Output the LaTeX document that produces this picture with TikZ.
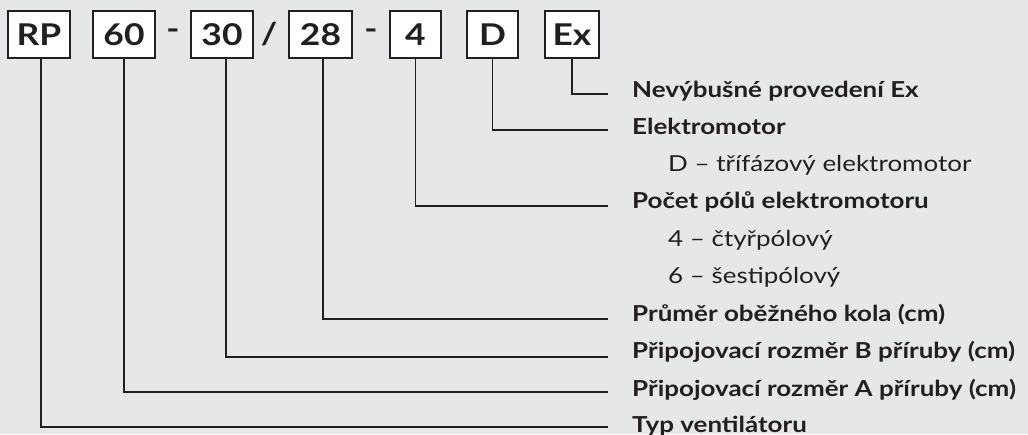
\documentclass[tikz,border=0pt]{standalone}
\usepackage{fontspec}
\setmainfont{Lato}[FakeStretch=1.18]
\definecolor{bg}{HTML}{E6E7E8}
\definecolor{ink}{HTML}{231F20}
\begin{document}
\begin{tikzpicture}[x=1pt,y=-1pt,
  code/.style={draw=ink,line width=2pt,fill=white,inner sep=0pt,minimum height=47pt,font=\fontsize{30}{30}\selectfont\bfseries,text=ink},
  sep/.style={font=\fontsize{30}{30}\selectfont\bfseries,text=ink,inner sep=0pt},
  head/.style={anchor=base west,inner sep=0pt,font=\fontsize{22}{24}\selectfont\bfseries,text=ink},
  sub/.style={anchor=base west,inner sep=0pt,font=\fontsize{22}{24}\selectfont,text=ink},
  conn/.style={draw=ink,line width=1.6pt}]
\fill[bg] (0,0) rectangle (1028,434);
\useasboundingbox (0,0) rectangle (1028,434);
% boxes
\node[code,minimum width=62pt] (rp) at (39,34.5) {RP};
\node[code,minimum width=62pt] (s60) at (124,34.5) {60};
\node[sep] (d1) at (173,34.5) {-};
\node[code,minimum width=62pt] (s30) at (222,34.5) {30};
\node[sep] (sl) at (269,34.5) {/};
\node[code,minimum width=63pt] (s28) at (320.5,34.5) {28};
\node[sep] (d2) at (371,34.5) {-};
\node[code,minimum width=51pt] (s4) at (415.5,34.5) {4};
\node[code,minimum width=51pt] (sD) at (492.5,34.5) {D};
\node[code,minimum width=54pt] (sEx) at (572,34.5) {Ex};
% labels
\node[head] (lEx) at (632,97) {Nevýbušné provedení Ex};
\node[head] (lD) at (632,134) {Elektromotor};
\node[sub] (lD1) at (668,171) {D – třífázový elektromotor};
\node[head] (l4) at (632,208) {Počet pólů elektromotoru};
\node[sub] (l41) at (668,246) {4 – čtyřpólový};
\node[sub] (l42) at (668,283) {6 – šestipólový};
\node[head] (l28) at (632,321) {Průměr oběžného kola (cm)};
\node[head] (l30) at (632,358) {Připojovací rozměr B příruby (cm)};
\node[head] (l60) at (632,396) {Připojovací rozměr A příruby (cm)};
\node[head] (lRP) at (632,432) {Typ ventilátoru};
% line ends
\coordinate (eEx) at (608,94);
\coordinate (eD) at (608,130);
\coordinate (e4) at (608,206);
\coordinate (e28) at (608,319);
\coordinate (e30) at (608,357);
\coordinate (e60) at (608,392);
\coordinate (eRP) at (608,427);
% connectors
\draw[conn] (sEx.south) |- (eEx);
\draw[conn] (sD.south) |- (eD);
\draw[conn] (s4.south) |- (e4);
\draw[conn] ([xshift=2.5pt]s28.south) |- (e28);
\draw[conn] ([xshift=4pt]s30.south) |- (e30);
\draw[conn] (s60.south) |- (e60);
\draw[conn] ([xshift=2pt]rp.south) |- (eRP);
\end{tikzpicture}
\end{document}
